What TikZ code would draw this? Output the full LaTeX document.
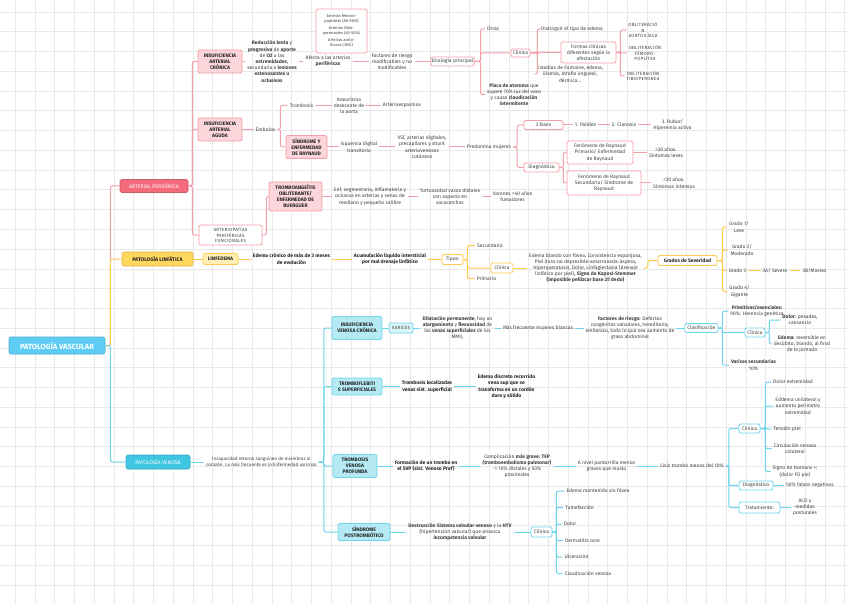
\documentclass[tikz,border=0pt]{standalone}
\usepackage{fontspec}
\setmainfont{Fira Sans}
\usepackage{xcolor}
\usepackage{tikz}
\usetikzlibrary{positioning}

\definecolor{artln}{HTML}{F4A0A9}
\definecolor{artfill}{HTML}{F46B7B}
\definecolor{artpale}{HTML}{FCD6DB}
\definecolor{linln}{HTML}{FFCB4F}
\definecolor{linfill}{HTML}{FFD65E}
\definecolor{linpale}{HTML}{FFF0B5}
\definecolor{venln}{HTML}{6DD5EC}
\definecolor{venfill}{HTML}{3FC7E2}
\definecolor{venpale}{HTML}{B5EAF5}
\definecolor{rootfill}{HTML}{5ECDF6}
\definecolor{gridc}{HTML}{E9E9E9}
\definecolor{txt}{HTML}{404040}
\definecolor{dark}{HTML}{262626}

\newcommand\smalltxt{\fontsize{5}{6.2}\selectfont}
\newcommand\boxtxt{\fontsize{5}{6}\selectfont\bfseries}
\newcommand\captxt{\fontsize{4.5}{5.6}\selectfont\addfontfeatures{LetterSpace=6}}
\newcommand\pcttxt{\fontsize{4}{5}\selectfont}

\begin{document}
\begin{tikzpicture}[x=1pt, y=-1pt,
    gridln/.style={draw=gridc, line width=0.5pt},
    lnA/.style={draw=artln, line width=1pt, rounded corners=2pt},
    lnL/.style={draw=linln, line width=1pt, rounded corners=2pt},
    lnV/.style={draw=venln, line width=1pt, rounded corners=2pt},
    tx/.style={font=\smalltxt, text=txt, align=center, inner sep=2pt},
    btx/.style={font=\smalltxt\bfseries, text=dark, align=center, inner sep=2pt},
    capt/.style={font=\captxt, text=txt, align=center, inner sep=2pt},
    rootbox/.style={fill=rootfill, draw=rootfill!85!black, line width=0.6pt, rounded corners=2pt,
                    text=white, font=\fontsize{7.5}{9}\selectfont\bfseries, inner sep=1pt},
    amain/.style={fill=artfill, draw=artfill!85!black, line width=0.6pt, rounded corners=1.5pt,
                  text=white, font=\fontsize{5.2}{6}\selectfont, inner sep=1pt},
    lmain/.style={fill=linfill, draw=linln!90!black, line width=0.6pt, rounded corners=1.5pt,
                  text=dark, font=\fontsize{5.2}{6}\selectfont\bfseries, inner sep=1pt},
    vmain/.style={fill=venfill, draw=venfill!85!black, line width=0.6pt, rounded corners=1.5pt,
                  text=white, font=\fontsize{5.2}{6}\selectfont, inner sep=1pt},
    abox/.style={draw=artln, fill=artpale, line width=0.8pt, rounded corners=1.5pt,
                 font=\boxtxt, text=dark, align=center, inner sep=1pt},
    aout/.style={draw=artln, fill=white, line width=0.8pt, rounded corners=1.5pt,
                 font=\smalltxt, text=txt, align=center, inner sep=1pt},
    lbox/.style={draw=linln, fill=linpale, line width=0.8pt, rounded corners=1.5pt,
                 font=\boxtxt, text=dark, align=center, inner sep=1pt},
    lout/.style={draw=linln, fill=white, line width=0.8pt, rounded corners=1.5pt,
                 font=\smalltxt, text=txt, align=center, inner sep=1pt},
    vbox/.style={draw=venln, fill=venpale, line width=0.8pt, rounded corners=1.5pt,
                 font=\boxtxt, text=dark, align=center, inner sep=1pt},
    vout/.style={draw=venln, fill=white, line width=0.8pt, rounded corners=1.5pt,
                 font=\smalltxt, text=txt, align=center, inner sep=1pt}
  ]
  \fill[white] (0,0) rectangle (848,604);
  \useasboundingbox (0,0) rectangle (848,604);
  \foreach \gx in {0,...,42} \draw[gridln] (15+19.75*\gx,0) -- (15+19.75*\gx,604);
  \foreach \gy in {0,...,30} \draw[gridln] (0,12+19.75*\gy) -- (848,12+19.75*\gy);

  % root and main branches
  \node[rootbox, minimum width=96pt, minimum height=17pt] (root) at (57,345.5) {PATOLOGÍA VASCULAR};
  \node[amain, minimum width=68pt, minimum height=13pt] (ap) at (154,186) {ARTERIAL PERIFÉRICA};
  \node[lmain, minimum width=71pt, minimum height=14pt] (pl) at (157.5,259) {PATOLOGÍA LINFÁTICA};
  \node[vmain, minimum width=64pt, minimum height=14pt] (pv) at (158,462) {PATOLOGÍA VENOSA};

  % arterial
  \node[abox, minimum width=44pt, minimum height=23pt] (iac) at (220,61.5) {INSUFICIENCIA\\ARTERIAL\\CRÓNICA};
  \node[abox, minimum width=44pt, minimum height=23pt] (iaa) at (220,129.5) {INSUFICIENCIA\\ARTERIAL\\AGUDA};
  \node[aout, font=\captxt, minimum width=63pt, minimum height=20pt] (apf) at (230.5,235) {ARTERIOPATÍAS\\PERIFÉRICAS\\FUNCIONALES};
  \node[abox, minimum width=53pt, minimum height=29pt] (tao) at (295.5,196.5) {TROMBOANGEÍTIS\\OBLITERANTE/\\ENFERMEDAD DE\\BUERGUER};
  \node[tx] (rsn) at (272,61.5) {\textbf{Reducción lenta} y\\\textbf{progresiva} de \textbf{aporte}\\de \textbf{O2} a las\\\textbf{extremidades},\\secundaria a \textbf{lesiones}\\\textbf{estenosantes u}\\\textbf{oclusivas}};
  \node[aout, font=\pcttxt, minimum width=51pt, minimum height=44pt] (pct) at (341.5,31) {Arterias fémoro-\\poplíteas (80-90\%)\\[2pt]Arterias tibio-\\peroneales (40-50\%)\\[2pt]Arterias aorto-\\ilíacas (30\%)};
  \node[tx] (afe) at (328,61.5) {Afecta a las arterias\\\textbf{periféricas}};
  \node[tx] (frm) at (392,61.5) {Factores de riesgo\\modificables y no\\modificables};
  \node[aout, minimum width=43pt, minimum height=9pt] (etp) at (452.5,61.5) {Etiología principal};
  \node[tx] (otr) at (493,29) {Otras};
  \node[aout, minimum width=19pt, minimum height=8pt] (cla) at (520.5,53) {Clínica};
  \node[tx] (pla) at (514,94.5) {\textbf{Placa de ateroma} que\\supere 70\% luz del vaso\\y cause \textbf{claudicación}\\\textbf{intermitente}};
  \node[tx] (dte) at (572,29) {Distinguir el tipo de edema};
  \node[aout, minimum width=55pt, minimum height=21pt] (fcl) at (588.5,52.5) {Formas clínicas\\diferentes según la\\afectación};
  \node[tx] (est) at (570,74) {Estadios de Fontaine, edema,\\úlceras, atrofia ungueal,\\dérmica...};
  \node[capt] (ob1) at (643,30) {OBLITERACIÓ\\N\\AORTOILÍACA};
  \node[capt] (ob2) at (645,53) {OBLITERACIÓN\\FÉMORO-\\POPLÍTEA};
  \node[capt] (ob3) at (643,76) {OBLITERACIÓN\\TIBIOPERONEA};
  \node[tx] (emb) at (265.5,129.5) {Émbolos};
  \node[tx] (trb) at (301.5,105.5) {Trombosis};
  \node[tx] (ane) at (349,105.5) {Aneurisma\\desecante de\\la aorta};
  \node[tx] (are) at (402,105.5) {Arterioespasmos};
  \node[abox, minimum width=41pt, minimum height=23pt] (ray) at (306.5,147) {SÍNDROME Y\\ENFERMEDAD\\DE RAYNAUD};
  \node[tx] (isq) at (359,147) {Isquemia digital\\transitoria};
  \node[tx] (vsc) at (422,147) {VSC arterias digitales,\\precapilares y shunt\\arteriovenosos\\cutáneos};
  \node[tx] (prm) at (489,147) {Predomina mujeres};
  \node[aout, minimum width=39pt, minimum height=9pt] (tf) at (543.5,125) {3 fases};
  \node[aout, minimum width=35pt, minimum height=9pt] (dgn) at (541.5,167.5) {Diagnóstico};
  \node[tx] (f1) at (585.5,125) {1. Palidez};
  \node[tx] (f2) at (624,125) {2. Cianosis};
  \node[tx] (f3) at (672.5,125) {3. Rubor/\\Hiperemia activa};
  \node[aout, minimum width=66pt, minimum height=23pt] (rp1) at (600,152.5) {Fenómeno de Raynaud\\Primario/ Enfermedad\\de Raynaud};
  \node[aout, minimum width=74pt, minimum height=24pt] (rp2) at (604,183) {Fenómeno de Raynaud\\Secundario/ Síndrome de\\Raynaud};
  \node[tx] (s1) at (666,152.5) {>30 años.\\Síntomas leves};
  \node[tx] (s2) at (674,183) {<30 años.\\Síntomas intensos};
  \node[tx] (enf) at (370,196.5) {Enf. segmentaria, inflamatoria y\\oclusiva en arterias y venas de\\mediano y pequeño calibre};
  \node[tx] (tor) at (450,196.5) {Tortuosidad vasos distales\\con aspecto en\\sacacorchos};
  \node[tx] (var) at (512.5,196.5) {Varones >40 años\\fumadores};

  % linfatica
  \node[lbox, minimum width=35pt, minimum height=11pt] (lin) at (220.5,259) {LINFEDEMA};
  \node[btx] (ecr) at (291.5,259) {Edema crónico de más de 3 meses\\de evolución};
  \node[btx] (acu) at (390,259) {Acumulación líquido intersticial\\por mal drenaje linfático};
  \node[lout, minimum width=21pt, minimum height=10pt] (tip) at (452.5,259.5) {Tipos:};
  \node[tx] (sec) at (490,245.5) {Secundario};
  \node[lout, minimum width=22pt, minimum height=10pt] (cll) at (502,268) {Clínica};
  \node[tx] (pri) at (486.5,278.5) {Primario};
  \node[tx] (edl) at (585.5,268) {Edema blando con fóvea, Consistencia esponjosa,\\Piel dura-no depresible-amarronada-áspera,\\Hiperqueratosis, Dolor, Linfagiectasia (drenaje\\linfático por piel), \textbf{Signo de Kaposi-Stemmer}\\\textbf{(imposible pellizcar base 2º dedo)}};
  \node[lout, font=\boxtxt, text=dark, minimum width=59pt, minimum height=10pt] (gds) at (687.5,260.5) {Grados de Severidad};
  \node[tx] (g1) at (739,227) {Grado 1/\\Leve};
  \node[tx] (g2) at (742,250) {Grado 2/\\Moderado};
  \node[tx] (g3) at (737.5,270.5) {Grado 3};
  \node[tx] (g3a) at (775,270.5) {3A/ Severo};
  \node[tx] (g3b) at (814.5,270.5) {3B/Masivo};
  \node[tx] (g4) at (739.5,291.5) {Grado 4/\\Gigante};

  % venosa
  \node[tx, font=\fontsize{4.6}{5.8}\selectfont] (inc) at (261.5,462) {Incapacidad retorno sanguíneo de miembros al\\corazón. La más frecuente es la Enfermedad varicosa};
  \node[vbox, minimum width=50pt, minimum height=23pt] (ivc) at (357,328) {INSUFICIENCIA\\VENOSA CRÓNICA};
  \node[vbox, minimum width=50pt, minimum height=17pt] (tfs) at (357,386.5) {TROMBOFLEBITI\\S SUPERFICIALES};
  \node[vbox, minimum width=44pt, minimum height=23pt] (tvp) at (355,466) {TROMBOSIS\\VENOSA\\PROFUNDA};
  \node[vbox, minimum width=52pt, minimum height=17pt] (spt) at (364,532) {SÍNDROME\\POSTROMBÓTICO};
  \node[vout, fill=venpale!50, font=\captxt, minimum width=24pt, minimum height=10pt] (vrc) at (401,328) {VARICES};
  \node[tx] (dil) at (457.5,328) {\textbf{Dilatación permanente}, hay un\\\textbf{alargamiento} y \textbf{flexuosidad} de\\las \textbf{venas superficiales} de los\\MMII,};
  \node[tx] (mfm) at (538,328) {Más frecuente mujeres blancas};
  \node[tx] (frv) at (630,328) {\textbf{Factores de riesgo:} Defectos\\congénitos valvulares, hereditario,\\embarazo, todo lo que sea aumento de\\grasa abdominal};
  \node[vout, minimum width=33pt, minimum height=9pt] (clf) at (701.5,328) {Clasificación};
  \node[tx] (prv) at (757,311) {\textbf{Primitivas/esenciales:}\\90\%. Herencia genética};
  \node[vout, minimum width=20pt, minimum height=9pt] (clv) at (755,332.5) {Clínica};
  \node[tx] (vsr) at (753.5,365) {\textbf{Varices secundarias}\\10\%};
  \node[tx] (dol) at (800,320) {\textbf{Dolor}: pesadez,\\cansancio};
  \node[tx] (ede) at (802,344) {\textbf{Edema:} reversible en\\decúbito, blando, al final\\de la jornada};
  \node[btx] (trl) at (427,386.5) {Trombosis localizadas\\venas sist. superficial};
  \node[btx] (edd) at (506.5,386.5) {Edema discreto recorrido\\vena sup que se\\transforma en un cordón\\duro y sólido};
  \node[btx] (fmt) at (426,466) {Formación de un trombo en\\el SVP (sist. Venoso Prof)};
  \node[tx] (cmp) at (517,466) {Complicación \textbf{más grave: TEP}\\\textbf{(tromboembolismo pulmonar)}\\-> 10\% distales y 50\%\\proximales};
  \node[tx] (anv) at (606.5,466) {A nivel pantorrilla menos\\graves que muslo};
  \node[tx] (lis) at (692,466) {Lisis trombo menos del 10\%};
  \node[vout, minimum width=21pt, minimum height=9pt] (clt) at (749.5,428.5) {Clínica};
  \node[vout, minimum width=34pt, minimum height=9pt] (dgt) at (756,485.5) {Diagnóstico};
  \node[vout, minimum width=41pt, minimum height=11pt] (trt) at (759.5,507.5) {Tratamiento:};
  \node[tx] (d1) at (793,382) {Dolor extremidad};
  \node[tx] (d2) at (798,406) {Eddema unilateral y\\aumento perímetro\\extremidad};
  \node[tx] (d3) at (787,429) {Tensión piel};
  \node[tx] (d4) at (795,448.5) {Circulación venosa\\colateral};
  \node[tx] (d5) at (795,471.5) {Signo de Homans +:\\(dolor FD pie)};
  \node[tx] (fn) at (810,485.5) {50\% falsos negativos};
  \node[tx] (aco) at (805,507.5) {ACO y\\medidas\\posturales};
  \node[tx] (des) at (460,532) {\textbf{Destrucción Sistema valvular venoso} y la \textbf{HTV}\\(hipertensión valvular) que provoca\\\textbf{incompetencia valvular}};
  \node[vout, minimum width=21pt, minimum height=10pt] (cls) at (541.5,532) {Clínica};
  \node[tx] (e1) at (598,491) {Edema mantenido sin fóvea};
  \node[tx] (e2) at (579.5,507.5) {Tumefacción};
  \node[tx] (e3) at (570,524) {Dolor};
  \node[tx] (e4) at (582.5,540.5) {Dermatitis ocre};
  \node[tx] (e5) at (576.5,557) {Ulceración};
  \node[tx] (e6) at (588,573.5) {Claudicación venosa};

  % connectors
  \draw[lnA] (root.east) -- ++(5,0) |- (ap.west);
  \draw[lnL] (root.east) -- ++(5,0) |- (pl.west);
  \draw[lnV] (root.east) -- ++(5,0) |- (pv.west);

  \draw[lnA] (ap.east) -- ++(4,0) |- (iac.west);
  \draw[lnA] (ap.east) -- ++(4,0) |- (iaa.west);
  \draw[lnA] (ap.east) -- ++(4,0) |- (apf.west);
  \draw[lnA] (iac) -- (rsn);
  \draw[lnA] (rsn) -- (afe);
  \draw[lnA] (afe) -- (frm);
  \draw[lnA] (frm) -- (etp);
  \draw[lnA] (etp.east) -- ++(6,0) |- (otr.west);
  \draw[lnA] (etp.east) -- ++(6,0) |- (cla.west);
  \draw[lnA] (etp.east) -- ++(6,0) |- (pla.west);
  \draw[lnA] (cla.east) -- ++(7,0) |- (dte.west);
  \draw[lnA] (cla.east) -- ++(7,0) |- (fcl.west);
  \draw[lnA] (cla.east) -- ++(7,0) |- (est.west);
  \draw[lnA] (fcl.east) -- ++(4,0) |- (ob1.west);
  \draw[lnA] (fcl.east) -- ++(4,0) |- (ob2.west);
  \draw[lnA] (fcl.east) -- ++(4,0) |- (ob3.west);
  \draw[lnA] (iaa) -- (emb);
  \draw[lnA] (emb.east) -- ++(3,0) |- (trb.west);
  \draw[lnA] (emb.east) -- ++(3,0) |- (ray.west);
  \draw[lnA] (trb) -- (ane);
  \draw[lnA] (ane) -- (are);
  \draw[lnA] (ray) -- (isq);
  \draw[lnA] (isq) -- (vsc);
  \draw[lnA] (vsc) -- (prm);
  \draw[lnA] (prm.east) -- ++(4,0) |- (tf.west);
  \draw[lnA] (prm.east) -- ++(4,0) |- (dgn.west);
  \draw[lnA] (tf) -- (f1);
  \draw[lnA] (f1) -- (f2);
  \draw[lnA] (f2) -- (f3);
  \draw[lnA] (dgn.east) -- ++(4,0) |- (rp1.west);
  \draw[lnA] (dgn.east) -- ++(4,0) |- (rp2.west);
  \draw[lnA] (rp1) -- (s1);
  \draw[lnA] (rp2) -- (s2);
  \draw[lnA] (apf.east) -- ++(4,0) |- (tao.west);
  \draw[lnA] (tao) -- (enf);
  \draw[lnA] (enf) -- (tor);
  \draw[lnA] (tor) -- (var);

  \draw[lnL] (pl) -- (lin);
  \draw[lnL] (lin) -- (ecr);
  \draw[lnL] (ecr) -- (acu);
  \draw[lnL] (acu) -- (tip);
  \draw[lnL] (tip.east) -- ++(4,0) |- (sec.west);
  \draw[lnL] (tip.east) -- ++(4,0) |- (cll.west);
  \draw[lnL] (tip.east) -- ++(4,0) |- (pri.west);
  \draw[lnL] (cll) -- (edl);
  \draw[lnL] (edl.east) -- ++(4,0) |- (gds.west);
  \draw[lnL] (gds.east) -- ++(5,0) |- (g1.west);
  \draw[lnL] (gds.east) -- ++(5,0) |- (g2.west);
  \draw[lnL] (gds.east) -- ++(5,0) |- (g3.west);
  \draw[lnL] (gds.east) -- ++(5,0) |- (g4.west);
  \draw[lnL] (g3) -- (g3a);
  \draw[lnL] (g3a) -- (g3b);

  \draw[lnV] (pv) -- (inc);
  \draw[lnV] (inc.east) -- ++(5,0) |- (ivc.west);
  \draw[lnV] (inc.east) -- ++(5,0) |- (tfs.west);
  \draw[lnV] (inc.east) -- ++(5,0) |- (tvp.west);
  \draw[lnV] (inc.east) -- ++(5,0) |- (spt.west);
  \draw[lnV] (ivc) -- (vrc);
  \draw[lnV] (vrc) -- (dil);
  \draw[lnV] (dil) -- (mfm);
  \draw[lnV] (mfm) -- (frv);
  \draw[lnV] (frv) -- (clf);
  \draw[lnV] (clf.east) -- ++(4,0) |- (prv.west);
  \draw[lnV] (clf.east) -- ++(4,0) |- (clv.west);
  \draw[lnV] (clf.east) -- ++(4,0) |- (vsr.west);
  \draw[lnV] (clv.east) -- ++(4,0) |- (dol.west);
  \draw[lnV] (clv.east) -- ++(4,0) |- (ede.west);
  \draw[lnV] (tfs) -- (trl);
  \draw[lnV] (trl) -- (edd);
  \draw[lnV] (tvp) -- (fmt);
  \draw[lnV] (fmt) -- (cmp);
  \draw[lnV] (cmp) -- (anv);
  \draw[lnV] (anv) -- (lis);
  \draw[lnV] (lis.east) -- ++(3,0) |- (clt.west);
  \draw[lnV] (lis.east) -- ++(3,0) |- (dgt.west);
  \draw[lnV] (lis.east) -- ++(3,0) |- (trt.west);
  \draw[lnV] (clt.east) -- ++(5,0) |- (d1.west);
  \draw[lnV] (clt.east) -- ++(5,0) |- (d2.west);
  \draw[lnV] (clt.east) -- ++(5,0) |- (d3.west);
  \draw[lnV] (clt.east) -- ++(5,0) |- (d4.west);
  \draw[lnV] (clt.east) -- ++(5,0) |- (d5.west);
  \draw[lnV] (dgt) -- (fn);
  \draw[lnV] (trt) -- (aco);
  \draw[lnV] (spt) -- (des);
  \draw[lnV] (des) -- (cls);
  \draw[lnV] (cls.east) -- ++(4,0) |- (e1.west);
  \draw[lnV] (cls.east) -- ++(4,0) |- (e2.west);
  \draw[lnV] (cls.east) -- ++(4,0) |- (e3.west);
  \draw[lnV] (cls.east) -- ++(4,0) |- (e4.west);
  \draw[lnV] (cls.east) -- ++(4,0) |- (e5.west);
  \draw[lnV] (cls.east) -- ++(4,0) |- (e6.west);
\end{tikzpicture}
\end{document}
